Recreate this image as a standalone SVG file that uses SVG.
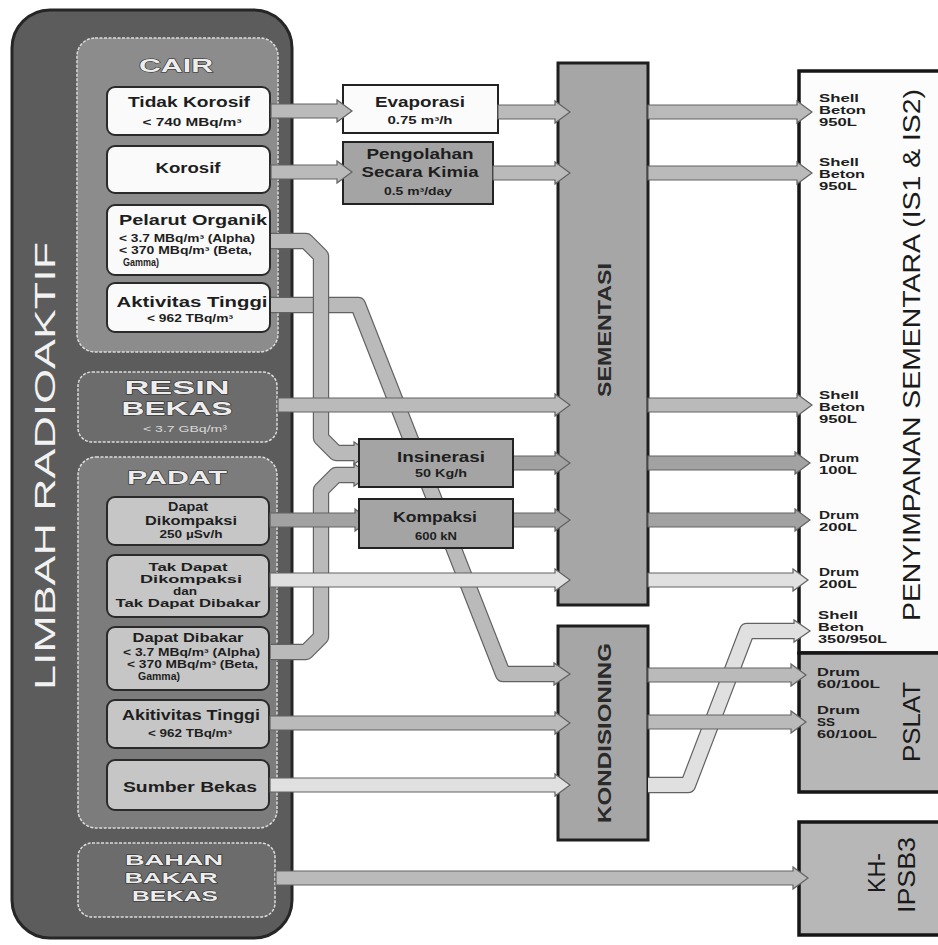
<svg xmlns="http://www.w3.org/2000/svg" width="938" height="945" viewBox="0 0 938 945">
<defs>
<style>
.lb{font-family:"Liberation Sans",Arial,sans-serif;font-weight:bold;fill:#1e1e1e;text-anchor:middle}
.ls{font-family:"Liberation Sans",Arial,sans-serif;font-weight:bold;fill:#1e1e1e;text-anchor:start}
.f14{font-size:14px}.f13{font-size:12px}.f12{font-size:10.5px}.f10{font-size:10px}.f11{font-size:11.5px}
.emb{font-family:"Liberation Sans",Arial,sans-serif;font-weight:bold;fill:#ededed;stroke:#2a2a2a;stroke-width:0.9;paint-order:stroke;text-anchor:middle}
.vt{font-family:"Liberation Sans",Arial,sans-serif;text-anchor:middle}
.panel{stroke:#dcdcdc;stroke-width:1.5;stroke-dasharray:3 1.5}
.wbox{fill:#fafafa;stroke:#2a2a2a;stroke-width:2}
.gbox{fill:#c6c6c6;stroke:#2a2a2a;stroke-width:2}
.mbox{stroke:#222;stroke-width:2}
.proc{fill:#a6a6a6;stroke:#1e1e1e;stroke-width:3}
.store{stroke:#161616;stroke-width:3.5}
.arr{stroke:#626262;stroke-width:1.2;stroke-linejoin:miter}
.c1{fill:#bababa}.c2{fill:#a2a2a2}.c3{fill:#e0e0e0}
.bo{fill:none;stroke:#626262;stroke-width:16.4;stroke-linejoin:round}
.bi1{fill:none;stroke:#bababa;stroke-width:14;stroke-linejoin:round}
.bi3{fill:none;stroke:#e0e0e0;stroke-width:14;stroke-linejoin:round}
.hd{stroke:#626262;stroke-width:1.2}
</style>
<mask id="behind">
<rect x="0" y="0" width="938" height="945" fill="#fff"/>
<rect x="358" y="438" width="156" height="50" fill="#000"/>
<rect x="358" y="498" width="156" height="51" fill="#000"/>
</mask>
</defs>
<rect x="0" y="0" width="938" height="945" fill="#ffffff"/>

<g id="limbah-radioaktif">
<rect x="12" y="10" width="280" height="928" rx="38" fill="#5c5c5c" stroke="#262626" stroke-width="3"/>
<text class="vt" transform="translate(55,466) rotate(-90)" font-size="30" fill="#f2f2f2" textLength="448" lengthAdjust="spacingAndGlyphs">LIMBAH RADIOAKTIF</text>
</g>

<g id="cair">
<rect class="panel" x="77" y="38" width="201" height="314" rx="18" fill="#8c8c8c"/>
<text class="emb" x="176" y="71.5" font-size="18" textLength="74" lengthAdjust="spacingAndGlyphs">CAIR</text>
</g>
<g id="tidak-korosif">
<rect class="wbox" x="107" y="87" width="163" height="48" rx="8"/>
<text class="lb f14" x="189" y="107" textLength="122" lengthAdjust="spacingAndGlyphs">Tidak Korosif</text>
<text class="lb f10" x="192" y="125.5" textLength="99" lengthAdjust="spacingAndGlyphs">&lt; 740 MBq/m³</text>
</g>
<g id="korosif">
<rect class="wbox" x="107" y="146" width="163" height="47" rx="8"/>
<text class="lb f14" x="188" y="173" textLength="65" lengthAdjust="spacingAndGlyphs">Korosif</text>
</g>
<g id="pelarut-organik">
<rect class="wbox" x="107" y="205" width="163" height="70" rx="8"/>
<text class="ls f14" x="119" y="225" textLength="148" lengthAdjust="spacingAndGlyphs">Pelarut Organik</text>
<text class="ls f10" x="119" y="241.5" textLength="136" lengthAdjust="spacingAndGlyphs">&lt; 3.7 MBq/m³ (Alpha)</text>
<text class="ls f10" x="119" y="253.5" textLength="133" lengthAdjust="spacingAndGlyphs">&lt; 370 MBq/m³ (Beta,</text>
<text class="ls f10" x="123" y="265.5" textLength="36" lengthAdjust="spacingAndGlyphs">Gamma)</text>
</g>
<g id="aktivitas-tinggi-cair">
<rect class="wbox" x="107" y="283" width="163" height="49" rx="8"/>
<text class="lb f14" x="192" y="307" textLength="151" lengthAdjust="spacingAndGlyphs">Aktivitas Tinggi</text>
<text class="lb f10" x="190" y="321.5" textLength="86" lengthAdjust="spacingAndGlyphs">&lt; 962 TBq/m³</text>
</g>

<g id="resin-bekas">
<rect class="panel" x="78" y="372" width="199" height="70" rx="14" fill="#6c6c6c"/>
<text class="emb" x="177" y="394" font-size="19" textLength="105" lengthAdjust="spacingAndGlyphs">RESIN</text>
<text class="emb" x="177" y="415" font-size="19" textLength="111" lengthAdjust="spacingAndGlyphs">BEKAS</text>
<text class="vt" x="185" y="432" font-size="9.5" fill="#dadada" textLength="84" lengthAdjust="spacingAndGlyphs">&lt; 3.7 GBq/m³</text>
</g>

<g id="padat">
<rect class="panel" x="78" y="457" width="199" height="371" rx="18" fill="#7c7c7c"/>
<text class="emb" x="177" y="484" font-size="18" textLength="100" lengthAdjust="spacingAndGlyphs">PADAT</text>
</g>
<g id="dapat-dikompaksi">
<rect class="gbox" x="107" y="497" width="162" height="48" rx="8"/>
<text class="lb f13" x="188" y="511" textLength="40" lengthAdjust="spacingAndGlyphs">Dapat</text>
<text class="lb f13" x="191" y="524.5" textLength="92" lengthAdjust="spacingAndGlyphs">Dikompaksi</text>
<text class="lb f10" x="191" y="538" textLength="63" lengthAdjust="spacingAndGlyphs">250 µSv/h</text>
</g>
<g id="tak-dapat">
<rect class="gbox" x="107" y="555" width="162" height="62" rx="8"/>
<text class="lb f12" x="188" y="571" textLength="79" lengthAdjust="spacingAndGlyphs">Tak Dapat</text>
<text class="lb f12" x="191" y="583" textLength="102" lengthAdjust="spacingAndGlyphs">Dikompaksi</text>
<text class="lb f12" x="185" y="595" textLength="24" lengthAdjust="spacingAndGlyphs">dan</text>
<text class="lb f12" x="188" y="607" textLength="145" lengthAdjust="spacingAndGlyphs">Tak Dapat Dibakar</text>
</g>
<g id="dapat-dibakar">
<rect class="gbox" x="107" y="627" width="162" height="63" rx="8"/>
<text class="lb f13" x="188" y="642" textLength="111" lengthAdjust="spacingAndGlyphs">Dapat Dibakar</text>
<text class="ls f10" x="123" y="655.5" textLength="137" lengthAdjust="spacingAndGlyphs">&lt; 3.7 MBq/m³ (Alpha)</text>
<text class="ls f10" x="127" y="667.5" textLength="131" lengthAdjust="spacingAndGlyphs">&lt; 370 MBq/m³ (Beta,</text>
<text class="ls f10" x="138" y="679.5" textLength="42" lengthAdjust="spacingAndGlyphs">Gamma)</text>
</g>
<g id="akitivitas-tinggi-padat">
<rect class="gbox" x="107" y="700" width="162" height="48" rx="8"/>
<text class="lb f14" x="191" y="720" textLength="138" lengthAdjust="spacingAndGlyphs">Akitivitas Tinggi</text>
<text class="lb f10" x="190" y="736.5" textLength="84" lengthAdjust="spacingAndGlyphs">&lt; 962 TBq/m³</text>
</g>
<g id="sumber-bekas">
<rect class="gbox" x="107" y="760" width="162" height="50" rx="8"/>
<text class="lb f14" x="190" y="792" textLength="134" lengthAdjust="spacingAndGlyphs">Sumber Bekas</text>
</g>

<g id="bahan-bakar-bekas">
<rect class="panel" x="78" y="843" width="197" height="74" rx="14" fill="#6c6c6c"/>
<text class="emb" x="174" y="865" font-size="14.5" textLength="98" lengthAdjust="spacingAndGlyphs">BAHAN</text>
<text class="emb" x="171" y="883" font-size="14.5" textLength="93" lengthAdjust="spacingAndGlyphs">BAKAR</text>
<text class="emb" x="175" y="901" font-size="14.5" textLength="86" lengthAdjust="spacingAndGlyphs">BEKAS</text>
</g>

<g id="evaporasi">
<rect class="mbox" x="343" y="85" width="155" height="48" fill="#fbfbfb"/>
<text class="lb f14" x="420" y="107" textLength="90" lengthAdjust="spacingAndGlyphs">Evaporasi</text>
<text class="lb f10" x="420" y="123.5" textLength="65" lengthAdjust="spacingAndGlyphs">0.75 m³/h</text>
</g>
<g id="pengolahan">
<rect class="mbox" x="343" y="142" width="150" height="62" fill="#a4a4a4"/>
<text class="lb f14" x="420" y="159" textLength="107" lengthAdjust="spacingAndGlyphs">Pengolahan</text>
<text class="lb f14" x="420" y="177" textLength="117" lengthAdjust="spacingAndGlyphs">Secara Kimia</text>
<text class="lb f10" x="418" y="194.5" textLength="68" lengthAdjust="spacingAndGlyphs">0.5 m³/day</text>
</g>

<g id="sementasi">
<rect class="proc" x="558" y="63" width="90" height="542"/>
<text class="vt" transform="translate(611,330) rotate(-90)" font-size="19" font-weight="bold" fill="#2a2a2a" textLength="134" lengthAdjust="spacingAndGlyphs">SEMENTASI</text>
</g>
<g id="kondisioning">
<rect class="proc" x="558" y="626" width="90" height="214"/>
<text class="vt" transform="translate(611,733) rotate(-90)" font-size="19" font-weight="bold" fill="#2a2a2a" textLength="180" lengthAdjust="spacingAndGlyphs">KONDISIONING</text>
</g>

<g id="penyimpanan-sementara">
<rect class="store" x="799" y="71" width="150" height="582" fill="#fcfcfc"/>
<text class="vt" transform="translate(920,355) rotate(-90)" font-size="24" fill="#1a1a1a" textLength="532" lengthAdjust="spacingAndGlyphs">PENYIMPANAN SEMENTARA (IS1 &amp; IS2)</text>
<text class="ls f11" x="819" y="102" textLength="40" lengthAdjust="spacingAndGlyphs">Shell</text>
<text class="ls f11" x="819" y="114" textLength="47" lengthAdjust="spacingAndGlyphs">Beton</text>
<text class="ls f11" x="819" y="126" textLength="38" lengthAdjust="spacingAndGlyphs">950L</text>
<text class="ls f11" x="819" y="166" textLength="40" lengthAdjust="spacingAndGlyphs">Shell</text>
<text class="ls f11" x="819" y="178" textLength="46" lengthAdjust="spacingAndGlyphs">Beton</text>
<text class="ls f11" x="819" y="190" textLength="38" lengthAdjust="spacingAndGlyphs">950L</text>
<text class="ls f11" x="819" y="399" textLength="40" lengthAdjust="spacingAndGlyphs">Shell</text>
<text class="ls f11" x="819" y="411" textLength="46" lengthAdjust="spacingAndGlyphs">Beton</text>
<text class="ls f11" x="819" y="423" textLength="38" lengthAdjust="spacingAndGlyphs">950L</text>
<text class="ls f11" x="819" y="462" textLength="40" lengthAdjust="spacingAndGlyphs">Drum</text>
<text class="ls f11" x="819" y="474" textLength="38" lengthAdjust="spacingAndGlyphs">100L</text>
<text class="ls f11" x="819" y="519" textLength="40" lengthAdjust="spacingAndGlyphs">Drum</text>
<text class="ls f11" x="819" y="531" textLength="38" lengthAdjust="spacingAndGlyphs">200L</text>
<text class="ls f11" x="819" y="576" textLength="40" lengthAdjust="spacingAndGlyphs">Drum</text>
<text class="ls f11" x="819" y="588" textLength="38" lengthAdjust="spacingAndGlyphs">200L</text>
<text class="ls f11" x="818" y="619" textLength="40" lengthAdjust="spacingAndGlyphs">Shell</text>
<text class="ls f11" x="818" y="631" textLength="46" lengthAdjust="spacingAndGlyphs">Beton</text>
<text class="ls f11" x="818" y="643" textLength="69" lengthAdjust="spacingAndGlyphs">350/950L</text>
</g>
<g id="pslat">
<rect class="store" x="799" y="653" width="150" height="139" fill="#b7b7b7"/>
<text class="vt" transform="translate(920,722) rotate(-90)" font-size="24" fill="#1a1a1a" textLength="80" lengthAdjust="spacingAndGlyphs">PSLAT</text>
<text class="ls f11" x="817" y="676" textLength="43" lengthAdjust="spacingAndGlyphs">Drum</text>
<text class="ls f11" x="817" y="688" textLength="63" lengthAdjust="spacingAndGlyphs">60/100L</text>
<text class="ls f11" x="817" y="714" textLength="43" lengthAdjust="spacingAndGlyphs">Drum</text>
<text class="ls f11" x="817" y="726" textLength="18" lengthAdjust="spacingAndGlyphs">SS</text>
<text class="ls f11" x="817" y="738" textLength="60" lengthAdjust="spacingAndGlyphs">60/100L</text>
</g>
<g id="kh-ipsb3">
<rect class="store" x="799" y="822" width="150" height="113" fill="#b7b7b7"/>
<text class="vt" transform="translate(885,873) rotate(-90)" font-size="24" fill="#1a1a1a" textLength="40" lengthAdjust="spacingAndGlyphs">KH-</text>
<text class="vt" transform="translate(915,875) rotate(-90)" font-size="24" fill="#1a1a1a" textLength="76" lengthAdjust="spacingAndGlyphs">IPSB3</text>
</g>

<g id="connectors">
<g mask="url(#behind)">
<path class="bo" d="M271 305 H358 L503 674 H556"/>
<path class="bi1" d="M271 305 H358 L503 674 H556"/>
</g>
<path class="hd c1" d="M554 667 V663 L570 674 L554 685 V681"/>
<path class="bo" d="M271 241 H306 L321 256 V438 L336 453 H356"/>
<path class="bi1" d="M271 241 H306 L321 256 V438 L336 453 H356"/>
<path class="hd c1" d="M354 446 V442 L370 453 L354 464 V460"/>
<path class="bo" d="M271 652 H306 L321 637 V490 L336 475 H356"/>
<path class="bi1" d="M271 652 H306 L321 637 V490 L336 475 H356"/>
<path class="hd c1" d="M354 468 V464 L370 475 L354 486 V482"/>
<path class="bo" d="M648 785 H688 L747 631 H796"/>
<path class="bi3" d="M648 785 H688 L747 631 H796"/>
<path class="hd c3" d="M794 624 V620 L810 631 L794 642 V638"/>
<polygon class="arr c1" points="271,104 337,104 337,100 352,111 337,122 337,118 271,118"/>
<polygon class="arr c1" points="498,105 555,105 555,101 570,112 555,123 555,119 498,119"/>
<polygon class="arr c1" points="271,165 337,165 337,161 352,172 337,183 337,179 271,179"/>
<polygon class="arr c1" points="493,166 555,166 555,162 570,173 555,184 555,180 493,180"/>
<polygon class="arr c1" points="648,105 797,105 797,101 812,112 797,123 797,119 648,119"/>
<polygon class="arr c1" points="648,166 797,166 797,162 812,173 797,184 797,180 648,180"/>
<polygon class="arr c1" points="278,398 555,398 555,394 570,405 555,416 555,412 278,412"/>
<polygon class="arr c1" points="648,398 797,398 797,394 812,405 797,416 797,412 648,412"/>
<polygon class="arr c2" points="513,456 555,456 555,452 570,463 555,474 555,470 513,470"/>
<polygon class="arr c2" points="648,456 795,456 795,452 810,463 795,474 795,470 648,470"/>
<polygon class="arr c2" points="513,513 555,513 555,509 570,520 555,531 555,527 513,527"/>
<polygon class="arr c2" points="648,513 795,513 795,509 810,520 795,531 795,527 648,527"/>
<polygon class="arr c2" points="270,513 355,513 355,509 370,520 355,531 355,527 270,527"/>
<polygon class="arr c3" points="270,573 555,573 555,569 570,580 555,591 555,587 270,587"/>
<polygon class="arr c3" points="648,573 793,573 793,569 808,580 793,591 793,587 648,587"/>
<polygon class="arr c1" points="648,668 791,668 791,664 806,675 791,686 791,682 648,682"/>
<polygon class="arr c1" points="270,716 555,716 555,712 570,723 555,734 555,730 270,730"/>
<polygon class="arr c1" points="648,715 791,715 791,711 806,722 791,733 791,729 648,729"/>
<polygon class="arr c3" points="270,778 555,778 555,774 570,785 555,796 555,792 270,792"/>
<polygon class="arr c1" points="276,871 793,871 793,867 808,878 793,889 793,885 276,885"/>
</g>

<g id="insinerasi">
<rect class="mbox" x="359" y="439" width="154" height="48" fill="#a4a4a4"/>
<text class="lb f14" x="441" y="462" textLength="88" lengthAdjust="spacingAndGlyphs">Insinerasi</text>
<text class="lb f10" x="441" y="476.5" textLength="52" lengthAdjust="spacingAndGlyphs">50 Kg/h</text>
</g>
<g id="kompaksi">
<rect class="mbox" x="359" y="499" width="154" height="49" fill="#a4a4a4"/>
<text class="lb f14" x="435" y="522" textLength="84" lengthAdjust="spacingAndGlyphs">Kompaksi</text>
<text class="lb f10" x="436" y="539.5" textLength="42" lengthAdjust="spacingAndGlyphs">600 kN</text>
</g>
</svg>
